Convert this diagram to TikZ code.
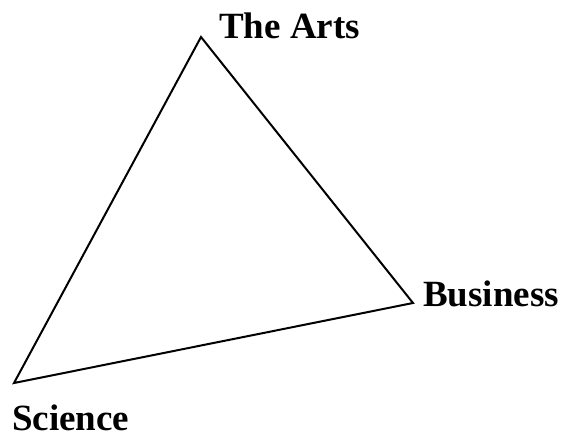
\documentclass[tikz,border=0pt]{standalone}
\usepackage{fontspec}
\setmainfont{Liberation Serif}
\begin{document}
\begin{tikzpicture}[x=1pt,y=-1pt,
  lbl/.style={anchor=base west,inner sep=0pt,font=\fontsize{37}{37}\selectfont\bfseries},
  edge/.style={line width=2pt,line join=miter}]
\useasboundingbox (0,0) rectangle (561,437);
\coordinate (top) at (201,37);
\coordinate (right) at (413,303);
\coordinate (left) at (14,383);
\draw[edge] (top) -- (right) -- (left) -- cycle;
\node[lbl] (arts) at (219,38) {The Arts};
\node[lbl] (bus) at (423,306) {Business};
\node[lbl] (sci) at (12,430) {Science};
\end{tikzpicture}
\end{document}
